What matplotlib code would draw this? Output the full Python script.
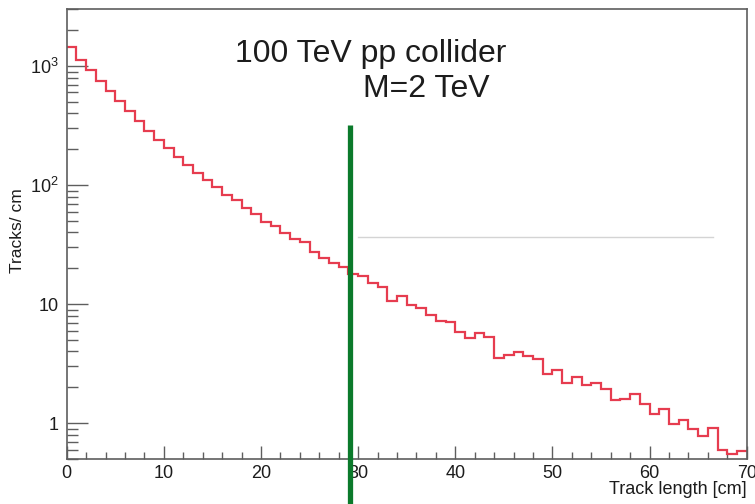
import matplotlib
matplotlib.use('Agg')
import matplotlib.pyplot as plt
from matplotlib.ticker import FixedLocator, FixedFormatter, MultipleLocator, LogLocator, NullFormatter

plt.rcParams['font.family'] = ['Liberation Sans', 'DejaVu Sans']

# track length bins [cm], 1 cm wide
bin_edges = list(range(0, 71))
# tracks per cm in each bin
tracks = [1460, 1134, 926, 748, 617, 508, 419, 345, 284, 239,
          203, 172, 147, 126, 110, 96.2, 82.4, 74.8, 64.1, 57.1,
          48.9, 45.2, 39.5, 35.2, 33.2, 27.4, 24.4, 22.1, 20.5, 18.0,
          17.2, 15.0, 13.9, 10.6, 11.7, 9.9, 9.25, 8.08, 7.20, 7.13,
          5.82, 5.18, 5.71, 5.28, 3.55, 3.76, 3.95, 3.66, 3.48, 2.61,
          2.79, 2.18, 2.45, 2.09, 2.19, 1.94, 1.56, 1.61, 1.75, 1.45,
          1.19, 1.32, 0.98, 1.06, 0.89, 0.785, 0.91, 0.59, 0.556, 0.587]

# the green cut and the faint grey reference line
cut_x = 29.2
cut_y = [0.2, 320]
ref_x = [30.0, 66.5]
ref_y = [36.6, 36.6]

x_ticks = [0, 10, 20, 30, 40, 50, 60, 70]
y_ticks = [1, 10, 100, 1000]
y_tick_labels = ['1', '10', r'$\mathregular{10^{2}}$', r'$\mathregular{10^{3}}$']

frame_col = '#5e5e5e'
text_col = '#1c1c1c'

fig = plt.figure(figsize=(7.55, 5.04), dpi=100)
ax = fig.add_axes([0.0883, 0.0893, 0.9007, 0.8923])

ax.plot(ref_x, ref_y, color='#d4d4d4', lw=1.0, zorder=1)
ax.stairs(tracks, bin_edges, baseline=None, color='#e63c4f', lw=1.6, zorder=2)
ax.plot([cut_x, cut_x], cut_y, color='#0b7a2b', lw=3.8, clip_on=False,
        solid_capstyle='butt', zorder=3)

ax.set_yscale('log')
ax.set_xlim(0, 70)
ax.set_ylim(0.5, 3000)

ax.xaxis.set_major_locator(FixedLocator(x_ticks))
ax.xaxis.set_minor_locator(MultipleLocator(2))
ax.yaxis.set_major_locator(FixedLocator(y_ticks))
ax.yaxis.set_major_formatter(FixedFormatter(y_tick_labels))
ax.yaxis.set_minor_locator(LogLocator(base=10, subs=[2, 3, 4, 5, 6, 7, 8, 9]))
ax.yaxis.set_minor_formatter(NullFormatter())

ax.tick_params(axis='both', which='both', direction='in', color=frame_col,
               labelcolor=text_col, labelsize=13, width=1.0)
ax.tick_params(axis='x', which='major', length=9.5, pad=4)
ax.tick_params(axis='x', which='minor', length=5)
ax.tick_params(axis='y', which='major', length=15, pad=6)
ax.tick_params(axis='y', which='minor', length=7.7)

for s in ax.spines.values():
    s.set_color(frame_col)
    s.set_linewidth(1.2)

ax.set_ylabel('Tracks/ cm', fontsize=12.5, color=text_col)
ax.yaxis.set_label_coords(-0.061, 0.507)
ax.set_xlabel('Track length [cm]', fontsize=13, color=text_col, ha='right')
ax.xaxis.set_label_coords(1.0, -0.05)

fig.text(235 / 755, 1 - 62 / 504, '100 TeV pp collider', fontsize=23,
         color=text_col, va='baseline')
fig.text(363 / 755, 1 - 97 / 504, 'M=2 TeV', fontsize=23,
         color=text_col, va='baseline')

fig.savefig('out.png', dpi=100)
